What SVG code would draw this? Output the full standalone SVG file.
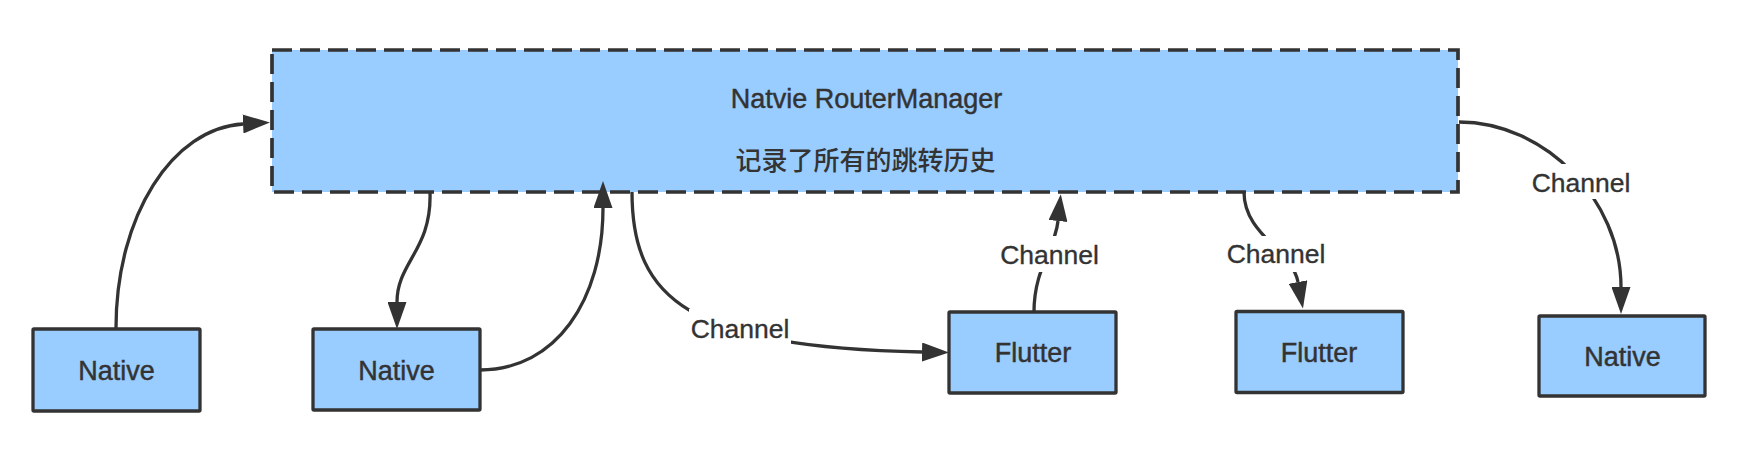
<svg xmlns="http://www.w3.org/2000/svg" width="1750" height="460" viewBox="0 0 1750 460">
  <style>
    .node rect { fill: #99ccff; stroke: #333333; stroke-width: 3.3; }
    .lbl { font-family: "Liberation Sans", Arial, "Noto Sans CJK SC", sans-serif; font-size: 27px; fill: #333333; stroke: #333333; stroke-width: 0.45; text-anchor: middle; }
    .cjk { font-family: "Noto Sans CJK SC", "Liberation Sans", sans-serif; font-size: 26px; font-weight: 500; fill: #333333; text-anchor: middle; }
    .conn path { fill: none; stroke: #333333; stroke-width: 3.3; marker-end: url(#arr); }
    .elabel rect { fill: #ffffff; stroke: none; }
    .elabel text { font-family: "Liberation Sans", Arial, sans-serif; font-size: 26.5px; fill: #333333; stroke: #333333; stroke-width: 0.35; text-anchor: middle; }
  </style>
  <defs>
    <marker id="arr" markerUnits="userSpaceOnUse" markerWidth="27" markerHeight="19" viewBox="0 0 27 19" refX="0" refY="9.5" orient="auto">
      <path d="M0,0 L27,9.5 L0,19 z" fill="#333333"/>
    </marker>
  </defs>
  <rect x="0" y="0" width="1750" height="460" fill="#ffffff"/>

  <g id="manager" class="node">
    <rect x="272" y="50" width="1186" height="142" style="stroke-width:3.7; stroke-dasharray:20 8;"/>
    <text class="lbl" x="866.5" y="108">Natvie RouterManager</text>
    <text class="cjk" x="865.5" y="170">记录了所有的跳转历史</text>
  </g>

  <g id="native1" class="node">
    <rect x="33" y="329" width="167" height="82" rx="1"/>
    <text class="lbl" x="116.5" y="380">Native</text>
  </g>
  <g id="native2" class="node">
    <rect x="313" y="329" width="167" height="81" rx="1"/>
    <text class="lbl" x="396.5" y="380">Native</text>
  </g>
  <g id="flutter1" class="node">
    <rect x="949" y="312" width="167" height="81" rx="1"/>
    <text class="lbl" x="1033" y="362">Flutter</text>
  </g>
  <g id="flutter2" class="node">
    <rect x="1236" y="311.5" width="167" height="81" rx="1"/>
    <text class="lbl" x="1319" y="361.5">Flutter</text>
  </g>
  <g id="native3" class="node">
    <rect x="1539" y="316" width="166" height="80" rx="1"/>
    <text class="lbl" x="1622.5" y="365.5">Native</text>
  </g>

  <g id="connectors" class="conn">
    <path d="M116,328 C116,215 173,128 243,124"/>
    <path d="M430,192 C432,250 397,262 397,302"/>
    <path d="M480,370 C556,370 603,300 603,208"/>
    <path d="M632,192 C632,300 690,347 922,352"/>
    <path d="M1034,312 C1034,268 1055,250 1058,221"/>
    <path d="M1244,192 C1244,235 1292,250 1298,282"/>
    <path d="M1459,122 C1545,122 1621,200 1621,287"/>
  </g>

  <g id="edge-labels" class="elabel">
    <rect x="689" y="309" width="102" height="37"/>
    <text x="740" y="337.7">Channel</text>
    <rect x="999" y="236" width="101" height="36"/>
    <text x="1049.5" y="264">Channel</text>
    <rect x="1225" y="236" width="102" height="36"/>
    <text x="1276" y="263.3">Channel</text>
    <rect x="1530" y="164" width="102" height="35"/>
    <text x="1581" y="191.7">Channel</text>
  </g>
</svg>
